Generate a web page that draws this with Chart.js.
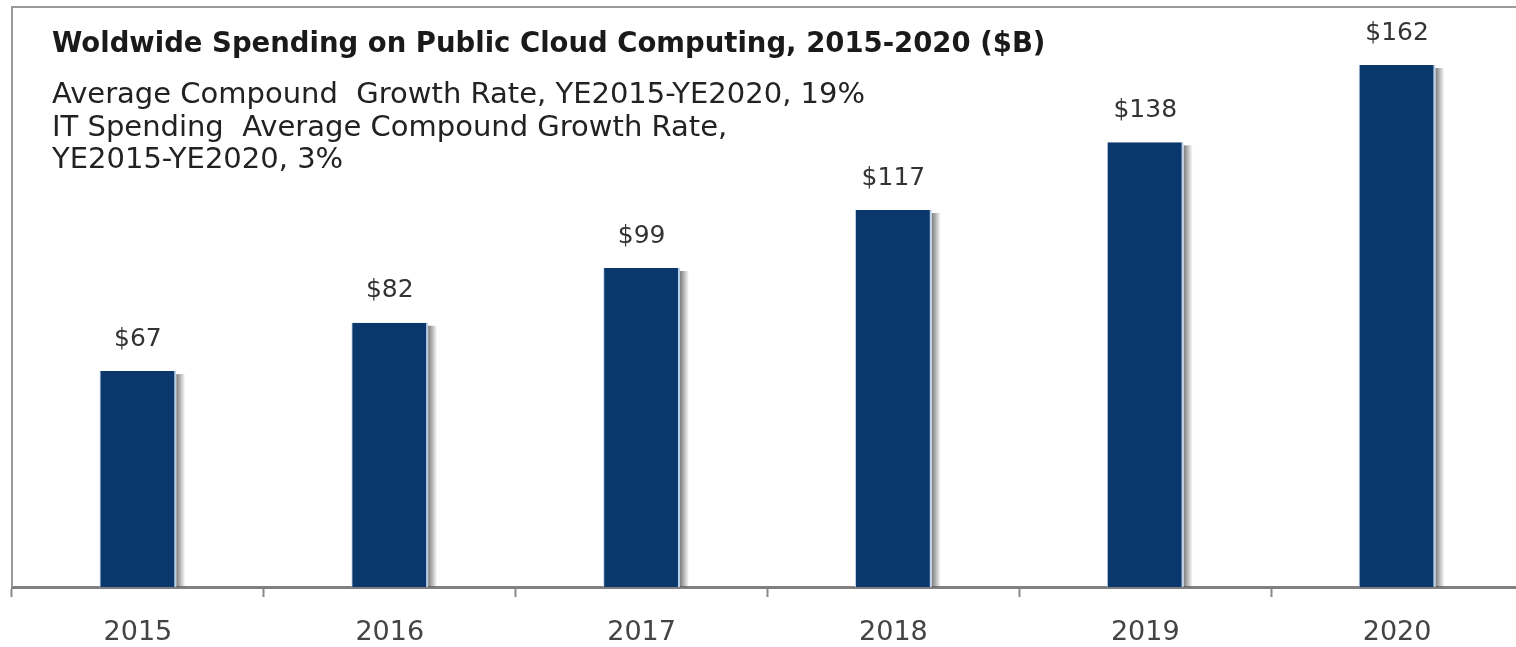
<!DOCTYPE html>
<html lang="en">

<head>
  <meta charset="UTF-8">
  <title>Woldwide Spending on Public Cloud Computing</title>
  <script src="https://cdn.jsdelivr.net/npm/chart.js"></script>
  <style>
    html, body {
      margin: 0;
      padding: 0;
      background: #fff;
      overflow: hidden;
    }

    #chart-container {
      width: 1535px;
      height: 647px;
    }
  </style>
</head>

<body>
  <div id="chart-container">
    <canvas id="cloudChart"></canvas>
  </div>

  <script>
    const years = ["2015", "2016", "2017", "2018", "2019", "2020"];
    const spending = [67, 82, 99, 117, 138, 162];
    const valueLabels = ["$67", "$82", "$99", "$117", "$138", "$162"];

    const titleText = "Woldwide Spending on Public Cloud Computing, 2015-2020 ($B)";
    const noteLines = [
      "Average Compound  Growth Rate, YE2015-YE2020, 19%",
      "IT Spending  Average Compound Growth Rate,",
      "YE2015-YE2020, 3%"
    ];

    const FONT = "'DejaVu Sans', Verdana, sans-serif";

    // frame, title and notes
    const framePlugin = {
      id: 'frame',
      afterDraw(chart) {
        const ctx = chart.ctx;
        const area = chart.chartArea;
        ctx.save();
        ctx.strokeStyle = '#9a9a9a';
        ctx.lineWidth = 2;
        ctx.beginPath();
        ctx.moveTo(area.left, area.bottom);
        ctx.lineTo(area.left, area.top);
        ctx.lineTo(chart.width, area.top);
        ctx.stroke();

        ctx.textAlign = 'left';
        ctx.textBaseline = 'middle';
        ctx.fillStyle = '#1a1a1a';
        ctx.font = "bold 27.5px " + FONT;
        ctx.fillText(titleText, 52, 45);

        ctx.fillStyle = '#222';
        ctx.font = "29px " + FONT;
        const ys = [95, 128, 160];
        noteLines.forEach((t, i) => ctx.fillText(t, 52, ys[i]));
        ctx.restore();
      }
    };

    // value labels above the bars
    const valuePlugin = {
      id: 'values',
      afterDatasetsDraw(chart) {
        const ctx = chart.ctx;
        const meta = chart.getDatasetMeta(0);
        ctx.save();
        ctx.textAlign = 'center';
        ctx.textBaseline = 'middle';
        ctx.fillStyle = '#333';
        ctx.font = "25px " + FONT;
        meta.data.forEach((bar, i) => {
          ctx.fillText(valueLabels[i], bar.x, bar.y - 32);
        });
        ctx.restore();
      }
    };

    // gray shadow strip on the right side of each bar
    const shadowPlugin = {
      id: 'barShadow',
      beforeDatasetsDraw(chart) {
        const ctx = chart.ctx;
        const meta = chart.getDatasetMeta(0);
        ctx.save();
        meta.data.forEach(bar => {
          const right = bar.x + bar.width / 2;
          const g = ctx.createLinearGradient(right, 0, right + 9, 0);
          g.addColorStop(0, 'rgba(80, 80, 80, 0.75)');
          g.addColorStop(1, 'rgba(80, 80, 80, 0)');
          ctx.fillStyle = g;
          ctx.fillRect(right, bar.y + 3, 9, bar.base - bar.y - 3);
        });
        ctx.restore();
      }
    };

    const ctx = document.getElementById('cloudChart').getContext('2d');
    const cloudChart = new Chart(ctx, {
      type: 'bar',
      data: {
        labels: years,
        datasets: [{
          data: spending,
          backgroundColor: '#0a386c',
          borderColor: '#b8d0ea',
          borderWidth: { left: 1, right: 2, top: 0, bottom: 0 },
          borderSkipped: false,
          categoryPercentage: 1.0,
          barPercentage: 0.305
        }]
      },
      options: {
        responsive: true,
        maintainAspectRatio: false,
        animation: false,
        layout: {
          padding: { left: 12, right: 12, top: 7, bottom: -21 }
        },
        plugins: {
          legend: { display: false },
          tooltip: { enabled: false }
        },
        scales: {
          x: {
            offset: true,
            grid: {
              offset: true,
              drawOnChartArea: false,
              drawTicks: true,
              tickLength: 10,
              tickWidth: 2,
              tickColor: '#8a8a8a'
            },
            border: { color: '#808080', width: 3 },
            ticks: {
              color: '#444',
              font: { family: FONT, size: 27, lineHeight: 1 },
              padding: 22
            }
          },
          y: {
            display: false,
            min: 0,
            max: 180
          }
        }
      },
      plugins: [shadowPlugin, valuePlugin, framePlugin]
    });
  </script>

</body>

</html>
